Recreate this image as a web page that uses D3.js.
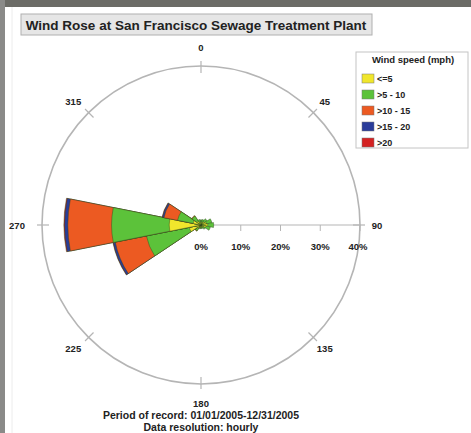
<!DOCTYPE html>
<html>
<head>
<meta charset="utf-8">
<script src="https://cdn.jsdelivr.net/npm/d3@7"></script>
<style>
  html, body { margin: 0; padding: 0; background: #fff; }
  svg { display: block; }
  text { font-family: "Liberation Sans", Arial, sans-serif; font-weight: bold; fill: #222; }
</style>
</head>
<body>
<svg id="chart" width="471" height="433"></svg>
<script>
// ---- data ----
const directions = [0, 22.5, 45, 67.5, 90, 112.5, 135, 157.5, 180, 202.5, 225, 247.5, 270, 292.5, 315, 337.5];
const speedBins = ["<=5", ">5 - 10", ">10 - 15", ">15 - 20", ">20"];
const binColors = ["#f0e62c", "#5cc23a", "#ec5a22", "#2a3c9a", "#d42222"];
// percent frequency per bin per direction
const calmTo5   = [0.8, 0.8, 1.0, 1.4, 1.7, 1.3, 0.8, 0.6, 0.6, 0.6, 1.0, 3.0, 8.0, 2.0, 1.2, 0.8];
const from5to10 = [0.5, 0.6, 0.9, 1.4, 1.5, 1.1, 0.5, 0.3, 0.3, 0.4, 0.8, 11.0, 14.5, 4.0, 1.5, 0.6];
const from10to15= [0, 0, 0, 0, 0, 0, 0, 0, 0, 0, 0.1, 8.0, 11.0, 3.5, 0.2, 0];
const from15to20= [0, 0, 0, 0, 0, 0, 0, 0, 0, 0, 0, 0.5, 0.8, 0.4, 0, 0];
const above20   = [0, 0, 0, 0, 0, 0, 0, 0, 0, 0, 0, 0.1, 0.2, 0.1, 0, 0];
const series = [calmTo5, from5to10, from10to15, from15to20, above20];
const radialTicks = [0, 10, 20, 30, 40];
const radialTickLabels = ["0%", "10%", "20%", "30%", "40%"];
const compassLabels = ["0", "45", "90", "135", "180", "225", "270", "315"];
const compassAngles = [0, 45, 90, 135, 180, 225, 270, 315];
const titleText = "Wind Rose at San Francisco Sewage Treatment Plant";
const legendTitle = "Wind speed (mph)";
const footer1 = "Period of record: 01/01/2005-12/31/2005";
const footer2 = "Data resolution: hourly";

// ---- drawing ----
const svg = d3.select("#chart");
const cx = 201, cy = 225, R = 159;

// photo frame bits
svg.append("rect").attr("x", 0).attr("y", 0).attr("width", 471).attr("height", 7).attr("fill", "#6b6b66");
svg.append("rect").attr("x", 0).attr("y", 0).attr("width", 5).attr("height", 433).attr("fill", "#8a8a88");
svg.append("line").attr("x1", 12).attr("x2", 12).attr("y1", 7).attr("y2", 433).attr("stroke", "#ececec").attr("stroke-width", 1);

// title box
svg.append("rect").attr("x", 21).attr("y", 14).attr("width", 351).attr("height", 21)
  .attr("fill", "#e6e6e6").attr("stroke", "#b0b0b0");
svg.append("text").attr("x", 196).attr("y", 29.5).attr("text-anchor", "middle")
  .attr("font-size", 13.5).text(titleText);

const r = d3.scaleLinear().domain([0, 40]).range([0, R]);
const g = svg.append("g").attr("transform", `translate(${cx},${cy})`);

// outer circle
g.append("circle").attr("r", R).attr("fill", "none").attr("stroke", "#b5b5b5").attr("stroke-width", 1.6);
compassAngles.forEach(a => {
  const t = a * Math.PI / 180;
  const s = Math.sin(t), c = -Math.cos(t);
  g.append("line")
    .attr("x1", (R - 7) * s).attr("y1", (R - 7) * c)
    .attr("x2", (R + 5) * s).attr("y2", (R + 5) * c)
    .attr("stroke", "#b5b5b5").attr("stroke-width", 1.2);
});

// compass labels
compassAngles.forEach((a, i) => {
  const t = a * Math.PI / 180;
  const rr = (a % 90 === 0) ? R + 19 : R + 16;
  let x = rr * Math.sin(t), y = -rr * Math.cos(t);
  if (a === 90) x = R + 17;
  if (a === 270) x = -R - 25;
  if (a === 225 || a === 315) x -= 4;
  g.append("text").attr("x", x).attr("y", y + 3.5).attr("text-anchor", "middle")
    .attr("font-size", 9.5).text(compassLabels[i]);
});

// radial axis
g.append("line").attr("x1", r(2.8)).attr("x2", r(40)).attr("y1", 0).attr("y2", 0)
  .attr("stroke", "#b5b5b5").attr("stroke-width", 1.2);
radialTicks.forEach((v, i) => {
  if (v > 0) g.append("line").attr("x1", r(v)).attr("x2", r(v)).attr("y1", 0).attr("y2", 6)
    .attr("stroke", "#b5b5b5").attr("stroke-width", 1);
  g.append("text").attr("x", r(v) + (v === 40 ? -2 : 0)).attr("y", 25).attr("text-anchor", "middle")
    .attr("font-size", 9.5).text(radialTickLabels[i]);
});

// petals
const half = 11.25 * Math.PI / 180;
const arc = d3.arc();
directions.forEach((d, di) => {
  let cum = 0;
  const segs = series.map((s, bi) => {
    const inner = cum; cum += s[di];
    return { inner, outer: cum, bi };
  });
  segs.slice().reverse().forEach(sg => {
    if (sg.outer - sg.inner <= 0) return;
    const a = d * Math.PI / 180;
    g.append("path")
      .attr("d", arc({ innerRadius: 0, outerRadius: r(sg.outer), startAngle: a - half, endAngle: a + half }))
      .attr("fill", binColors[sg.bi])
      .attr("stroke", "#2f4a1c").attr("stroke-opacity", 0.55).attr("stroke-width", 0.8);
  });
});

// legend
const lg = svg.append("g");
lg.append("rect").attr("x", 356).attr("y", 52).attr("width", 112).attr("height", 96)
  .attr("fill", "#fff").attr("stroke", "#c4c4c4");
lg.append("text").attr("x", 413).attr("y", 63).attr("text-anchor", "middle").attr("font-size", 9.5).text(legendTitle);
speedBins.forEach((b, i) => {
  const y = 74 + i * 16;
  lg.append("rect").attr("x", 362).attr("y", y).attr("width", 12).attr("height", 9)
    .attr("fill", binColors[i]).attr("stroke", "#777").attr("stroke-width", 0.5);
  lg.append("text").attr("x", 377).attr("y", y + 8).attr("font-size", 9).text(b);
});

// footer
svg.append("text").attr("x", 201).attr("y", 419).attr("text-anchor", "middle").attr("font-size", 10.5).text(footer1);
svg.append("text").attr("x", 201).attr("y", 431).attr("text-anchor", "middle").attr("font-size", 10.5).text(footer2);
</script>
</body>
</html>
